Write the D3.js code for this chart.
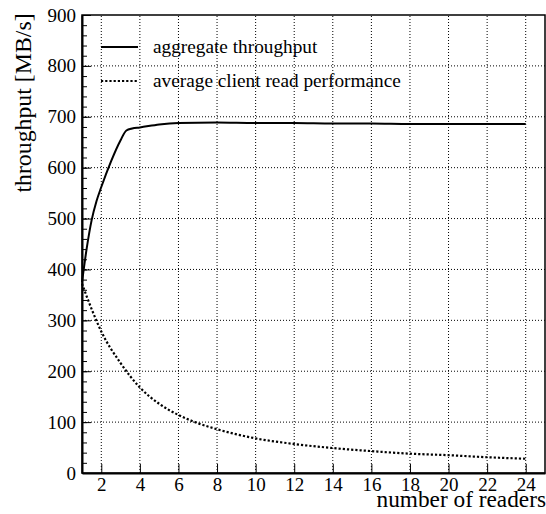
<!DOCTYPE html>
<html>
<head>
<meta charset="utf-8">
<script src="https://d3js.org/d3.v7.min.js"></script>
<style>
  body { margin: 0; background: #fff; }
  text { font-family: "Liberation Serif", "Times New Roman", serif; fill: #000; }
</style>
</head>
<body>
<div id="chart"></div>
<script>
// aggregate throughput (solid)
var aggX = [1, 1.25, 1.5, 1.75, 2, 2.5, 3, 3.3, 3.6, 4, 5, 6, 8, 10, 12, 14, 16, 18, 20, 22, 24];
var aggY = [375, 443, 497, 534, 562, 612, 654, 673, 677, 679, 685, 688, 689, 688, 688, 687, 687, 686, 686, 686, 686];
// average client read performance (dotted)
var avgX = [1, 1.5, 2, 3, 4, 5, 6, 7, 8, 10, 12, 14, 16, 18, 20, 22, 24];
var avgY = [372, 322, 278, 216, 168, 136, 114, 98, 86, 68, 57, 49, 43, 38, 35, 31, 28];

var xTicks = [2, 4, 6, 8, 10, 12, 14, 16, 18, 20, 22, 24];
var yTicks = [0, 100, 200, 300, 400, 500, 600, 700, 800, 900];
var legendLabels = ["aggregate throughput", "average client read performance"];

var W = 546, H = 514;
var plotL = 82, plotR = 545, plotT = 15, plotB = 473;

var svg = d3.select("#chart").append("svg")
    .attr("width", W)
    .attr("height", H);

var x = d3.scaleLinear().domain([1, 25]).range([plotL, plotR]);
var y = d3.scaleLinear().domain([0, 900]).range([plotB, plotT]);

// grid
svg.append("g").selectAll("line")
    .data(xTicks)
    .enter().append("line")
    .attr("x1", function (d) { return x(d); })
    .attr("x2", function (d) { return x(d); })
    .attr("y1", plotB)
    .attr("y2", plotT)
    .attr("stroke", "#000")
    .attr("stroke-width", 1)
    .attr("stroke-dasharray", "1,2");

svg.append("g").selectAll("line")
    .data(yTicks.filter(function (d) { return d > 0 && d < 900; }))
    .enter().append("line")
    .attr("x1", plotL)
    .attr("x2", plotR)
    .attr("y1", function (d) { return y(d); })
    .attr("y2", function (d) { return y(d); })
    .attr("stroke", "#000")
    .attr("stroke-width", 1)
    .attr("stroke-dasharray", "1,2");

// frame
svg.append("rect")
    .attr("x", plotL)
    .attr("y", plotT)
    .attr("width", plotR - plotL)
    .attr("height", plotB - plotT)
    .attr("fill", "none")
    .attr("stroke", "#000")
    .attr("stroke-width", 1.5);

// minor y ticks
svg.append("g")
    .attr("transform", "translate(" + plotL + ",0)")
    .call(d3.axisLeft(y).tickValues(d3.range(0, 901, 20)).tickSize(-5).tickFormat(""))
    .call(function (g) { g.select(".domain").remove(); });

// y axis
var yAxis = svg.append("g")
    .attr("transform", "translate(" + plotL + ",0)")
    .call(d3.axisLeft(y).tickValues(yTicks).tickSizeInner(-9).tickSizeOuter(0).tickPadding(6));
yAxis.select(".domain").attr("stroke-width", 2);
yAxis.selectAll("text").style("font-family", "Liberation Serif").style("font-size", "19px");

// x axis
var xAxis = svg.append("g")
    .attr("transform", "translate(0," + plotB + ")")
    .call(d3.axisBottom(x).tickValues(xTicks).tickSizeInner(-9).tickSizeOuter(0).tickPadding(5));
xAxis.select(".domain").attr("stroke-width", 2);
xAxis.selectAll("text").style("font-family", "Liberation Serif").style("font-size", "19px");

// curves
var line = d3.line().curve(d3.curveMonotoneX);

svg.append("path")
    .attr("d", line(aggX.map(function (d, i) { return [x(d), y(aggY[i])]; })))
    .attr("fill", "none")
    .attr("stroke", "#000")
    .attr("stroke-width", 2);

svg.append("path")
    .attr("d", line(avgX.map(function (d, i) { return [x(d), y(avgY[i])]; })))
    .attr("fill", "none")
    .attr("stroke", "#000")
    .attr("stroke-width", 2.2)
    .attr("stroke-dasharray", "2.2,2");

// legend
var leg = svg.append("g");
legendLabels.forEach(function (lab, i) {
    var ly = 47 + i * 34;
    leg.append("line")
        .attr("x1", 101).attr("x2", 138)
        .attr("y1", ly).attr("y2", ly)
        .attr("stroke", "#000")
        .attr("stroke-width", 2)
        .attr("stroke-dasharray", i === 0 ? null : "2.2,2");
    leg.append("text")
        .attr("x", 153)
        .attr("y", ly + 6)
        .style("font-size", "19.3px")
        .text(lab);
});

// axis labels
svg.append("text")
    .attr("x", 546)
    .attr("y", 507)
    .attr("text-anchor", "end")
    .style("font-size", "23.3px")
    .text("number of readers");

svg.append("text")
    .attr("transform", "translate(31,103) rotate(-90)")
    .attr("text-anchor", "middle")
    .style("font-size", "23.8px")
    .text("throughput [MB/s]");
</script>
</body>
</html>
